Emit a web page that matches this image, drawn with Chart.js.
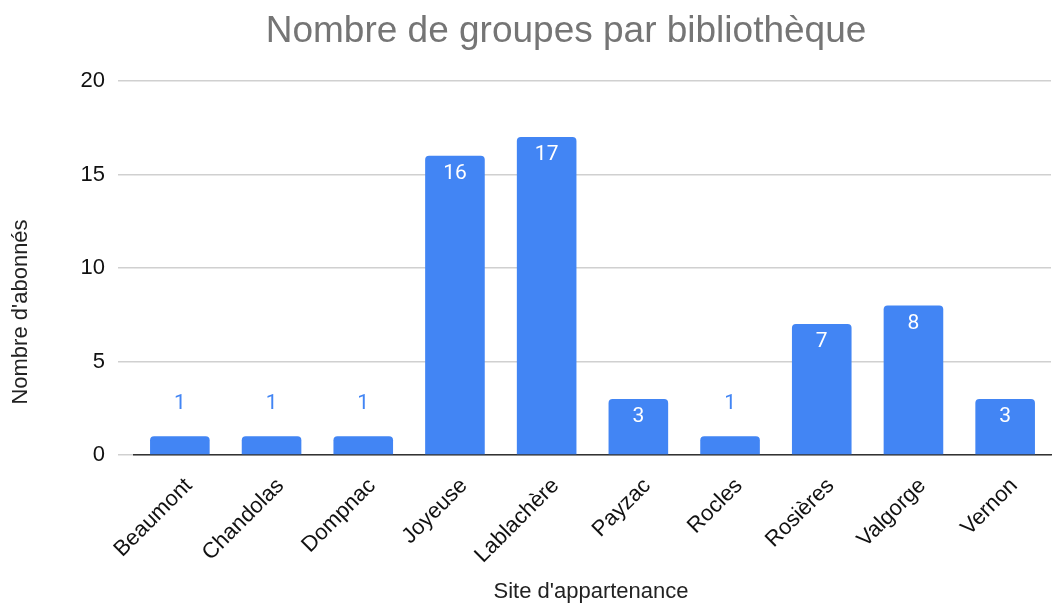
<!DOCTYPE html>
<html>
<head>
<meta charset="utf-8">
<script src="https://cdn.jsdelivr.net/npm/chart.js@4"></script>
<style>
  html, body { margin: 0; padding: 0; background: #fff; }
  #wrap { width: 1054px; height: 603px; }
</style>
</head>
<body>
<div id="wrap"><canvas id="myChart"></canvas></div>
<script>
// données du graphique
const sites = ['Beaumont', 'Chandolas', 'Dompnac', 'Joyeuse', 'Lablachère', 'Payzac', 'Rocles', 'Rosières', 'Valgorge', 'Vernon'];
const groupes = [1, 1, 1, 16, 17, 3, 1, 7, 8, 3];
const yTicks = [0, 5, 10, 15, 20];

const BLEU = '#4285F4';
const POLICE = '"Liberation Sans", Arial, sans-serif';

// étiquettes de valeur (dans la barre ou au-dessus)
const valueLabels = {
    id: 'valueLabels',
    afterDatasetsDraw(chart) {
        const ctx = chart.ctx;
        const meta = chart.getDatasetMeta(0);
        ctx.save();
        ctx.font = '21px Roboto, ' + POLICE;
        ctx.textAlign = 'center';
        ctx.textBaseline = 'middle';
        meta.data.forEach((bar, i) => {
            const v = groupes[i];
            if (v >= 3) {
                ctx.fillStyle = '#ffffff';
                ctx.fillText(String(v), bar.x, bar.y + 18);
            } else {
                ctx.fillStyle = BLEU;
                ctx.fillText(String(v), bar.x, bar.y - 33);
            }
        });
        ctx.restore();
    }
};

// titres (placés comme dans l'original)
const titres = {
    id: 'titres',
    afterDraw(chart) {
        const ctx = chart.ctx;
        ctx.save();
        ctx.textAlign = 'center';
        ctx.textBaseline = 'middle';

        ctx.fillStyle = '#757575';
        ctx.font = '37px ' + POLICE;
        ctx.fillText('Nombre de groupes par bibliothèque', 566, 32);

        ctx.fillStyle = '#222222';
        ctx.font = '22px ' + POLICE;
        ctx.fillText("Site d'appartenance", 591, 592);

        ctx.translate(21, 312);
        ctx.rotate(-Math.PI / 2);
        ctx.fillText("Nombre d'abonnés", 0, 0);
        ctx.restore();
    }
};

const ctx = document.getElementById('myChart').getContext('2d');
const myChart = new Chart(ctx, {
    type: 'bar',
    data: {
        labels: sites,
        datasets: [{
            label: "Nombre d'abonnés",
            data: groupes,
            backgroundColor: BLEU,
            borderRadius: { topLeft: 4, topRight: 4 },
            borderSkipped: 'bottom',
            categoryPercentage: 1,
            barPercentage: 0.65
        }]
    },
    options: {
        responsive: true,
        maintainAspectRatio: false,
        animation: false,
        layout: { padding: { top: 81, right: 3, left: 80, bottom: 0 } },
        plugins: {
            legend: { display: false },
            tooltip: { enabled: false },
            title: { display: false }
        },
        scales: {
            x: {
                grid: { display: false },
                border: { color: '#333333', width: 1.5 },
                afterFit(axis) { axis.height = 148; },
                ticks: {
                    color: '#111111',
                    maxRotation: 45,
                    minRotation: 45,
                    padding: 10,
                    labelOffset: 9,
                    font: { family: POLICE, size: 22 }
                }
            },
            y: {
                min: 0,
                max: 20,
                afterBuildTicks(axis) {
                    axis.ticks = yTicks.map(v => ({ value: v }));
                },
                afterFit(axis) { axis.width = 54; },
                grid: { color: '#d0d0d0', lineWidth: 1.5, tickLength: 16, drawTicks: true },
                border: { display: false },
                ticks: {
                    color: '#111111',
                    padding: 13,
                    font: { family: POLICE, size: 22 }
                }
            }
        }
    },
    plugins: [valueLabels, titres]
});
</script>
</body>
</html>
